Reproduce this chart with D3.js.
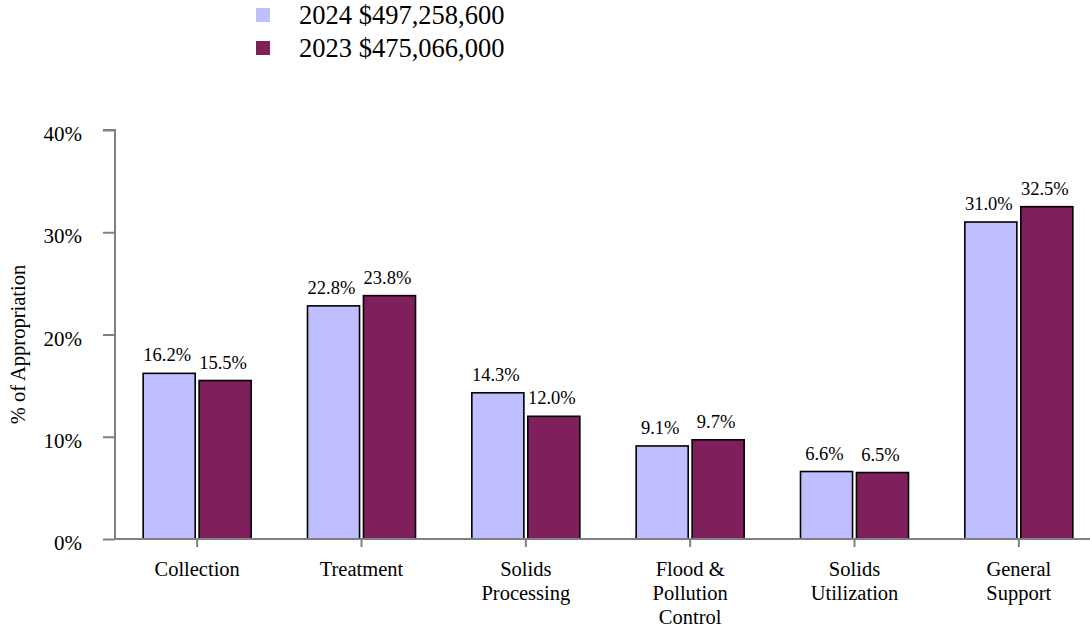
<!DOCTYPE html>
<html><head><meta charset="utf-8">
<script src="https://cdn.jsdelivr.net/npm/d3@7"></script>
<style>body{margin:0;background:#fff}svg{display:block}</style>
</head><body><svg id="c" width="1090" height="630"></svg>
<script>
const categories = [["Collection"],["Treatment"],["Solids","Processing"],["Flood &","Pollution","Control"],["Solids","Utilization"],["General","Support"]];
const series = ["2024 $497,258,600","2023 $475,066,000"];
const values2024 = [16.2,22.8,14.3,9.1,6.6,31.0];
const values2023 = [15.5,23.8,12.0,9.7,6.5,32.5];
const yTicks = [0,10,20,30,40];
const colors = ["#bfbfff","#7f1f5b"];
const FONT = '"Liberation Serif"';

const svg = d3.select("#c");
const x0 = 115, x1 = 1101, yTop = 130, yBot = 539;
const x = d3.scaleBand().domain(d3.range(categories.length)).range([x0,x1]);
const xs = d3.scaleBand().domain([0,1]).range([-54,54]).paddingInner(0.07);
const y = d3.scaleLinear().domain([0,40]).range([yBot,yTop]);

// y axis
const ya = svg.append("g").attr("transform",`translate(${x0},0)`)
  .call(d3.axisLeft(y).tickValues(yTicks).tickSize(12).tickPadding(21).tickFormat(d=>d+"%"));
ya.attr("font-family",null).attr("font-size",null);
ya.select(".domain").attr("stroke","#808080").attr("stroke-width",2).attr("d",`M-12,${yTop}H0V${yBot}`);
ya.selectAll(".tick line").attr("stroke","#808080").attr("stroke-width",2);
ya.selectAll(".tick text").attr("dy","0.5em").style("font-family",FONT).style("font-size","21px").attr("fill","#000");

svg.append("text").attr("transform",`translate(25,${(yTop+yBot)/2 + 10}) rotate(-90)`)
  .attr("text-anchor","middle").style("font-family",FONT).style("font-size","20.5px").text("% of Appropriation");

// bars
const g = svg.append("g");
categories.forEach((c,i)=>{
  const cx = x(i)+x.bandwidth()/2;
  [values2024[i],values2023[i]].forEach((v,k)=>{
    const bx = cx + xs(k);
    g.append("rect").attr("x",bx).attr("y",y(v)).attr("width",xs.bandwidth()).attr("height",yBot-y(v))
      .attr("fill",colors[k]).attr("stroke","#000").attr("stroke-width",1.6);
    g.append("text").attr("x",bx+xs.bandwidth()/2-2).attr("y",y(v)-12).attr("text-anchor","middle")
      .style("font-family",FONT).style("font-size","18.5px").text(v.toFixed(1)+"%");
  });
});

// x axis
const xa = svg.append("g").attr("transform",`translate(0,${yBot})`)
  .call(d3.axisBottom(x).tickSize(8).tickFormat(""));
xa.select(".domain").attr("stroke","#808080").attr("stroke-width",2).attr("d",`M${x0},0H1090`);
xa.selectAll(".tick line").attr("stroke","#808080").attr("stroke-width",2);
categories.forEach((c,i)=>{
  const cx = x(i)+x.bandwidth()/2;
  const t = svg.append("text").attr("x",cx).attr("y",576).attr("text-anchor","middle")
    .style("font-family",FONT).style("font-size","20.5px");
  c.forEach((line,j)=>t.append("tspan").attr("x",cx).attr("dy",j?24:0).text(line));
});

// legend
series.forEach((s,k)=>{
  svg.append("rect").attr("x",256).attr("y",8+k*33).attr("width",14).attr("height",14).attr("fill",colors[k]);
  svg.append("text").attr("x",299).attr("y",24+k*33).style("font-family",FONT).style("font-size","26.5px").text(s);
});
</script></body></html>
